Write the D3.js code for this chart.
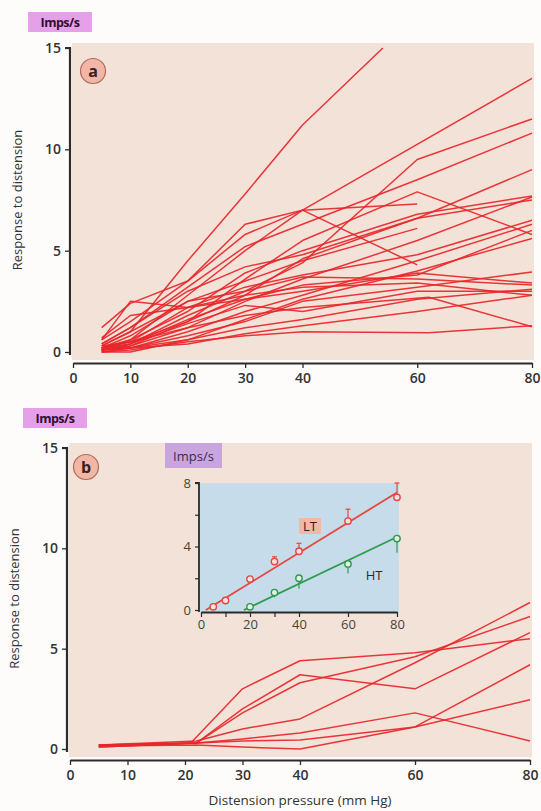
<!DOCTYPE html>
<html>
<head>
<meta charset="utf-8">
<script src="https://cdn.jsdelivr.net/npm/d3@7"></script>
<style>
  body { margin: 0; background: #fdfcfb; }
  svg { display: block; font-family: "Open Sans", "Noto Sans", sans-serif; }
</style>
</head>
<body>
<svg id="chart"></svg>
<script>
// panel a: individual fibres, normotensive
const panelALines = [
  [[5,0.3],[10,1.0],[20,4.5],[30,7.8],[40,11.2],[54,15]],
  [[5,0.2],[10,0.6],[20,2.8],[30,5.0],[40,7.0],[80,13.5]],
  [[5,0.1],[10,0.4],[20,1.8],[30,3.0],[40,4.4],[60,9.5],[80,11.5]],
  [[5,0.4],[10,1.2],[20,3.2],[30,5.2],[40,6.3],[60,8.5],[80,10.8]],
  [[5,0.2],[10,0.5],[20,1.5],[30,2.8],[40,4.6],[60,6.6],[80,9.0]],
  [[5,0.1],[10,0.3],[20,1.5],[30,3.6],[40,5.5],[60,7.9],[80,5.8]],
  [[5,1.2],[10,2.4],[20,3.5],[30,5.8],[40,7.0],[60,7.3]],
  [[5,0.2],[10,0.8],[20,2.5],[30,3.5],[40,4.5],[60,6.1]],
  [[5,0.6],[10,1.5],[20,3.5],[30,6.3],[40,7.0],[60,4.3]],
  [[5,0.1],[10,0.3],[20,1.2],[30,2.5],[40,3.6],[60,5.5],[80,7.65]],
  [[5,0.3],[10,0.5],[20,2.2],[30,3.2],[40,3.8],[60,4.8],[80,6.5]],
  [[5,0.1],[10,0.2],[20,1.0],[30,2.0],[40,2.8],[60,4.5],[80,6.3]],
  [[5,0.2],[10,0.4],[20,1.6],[30,2.6],[40,3.3],[60,3.8],[80,6.0]],
  [[5,0.0],[10,0.2],[20,0.8],[30,1.5],[40,2.5],[60,3.2],[80,3.95]],
  [[5,0.3],[10,1.0],[20,2.5],[30,3.0],[40,3.7],[60,3.6],[80,3.3]],
  [[5,0.1],[10,0.4],[20,1.4],[30,2.3],[40,2.0],[60,3.0],[80,3.0]],
  [[5,0.2],[10,0.5],[20,1.2],[30,1.8],[40,2.2],[62,2.7],[80,1.25]],
  [[5,0.0],[10,0.1],[20,0.5],[30,0.8],[40,1.0],[62,0.95],[80,1.3]],
  [[5,0.1],[10,0.2],[20,0.6],[30,1.2],[40,1.6],[60,2.6],[80,3.1]],
  [[5,0.7],[10,1.8],[20,2.2],[30,2.8],[40,3.2],[60,3.4],[80,2.8]],
  [[5,0.0],[10,0.0],[20,0.6],[30,1.6],[40,2.6],[60,4.0],[80,5.6]],
  [[5,0.6],[10,2.5],[20,2.2],[30,2.6],[40,3.0],[60,3.9],[80,3.4]],
  [[5,0.2],[10,0.2],[20,0.4],[30,0.9],[40,1.3],[60,2.0],[80,2.8]],
  [[5,0.4],[10,1.2],[20,3.0],[30,4.2],[40,4.8],[60,6.6],[80,7.5]],
  [[5,0.1],[10,0.6],[20,2.0],[30,3.9],[40,5.0],[60,6.8],[80,7.7]]
];

// panel b: individual fibres, hypertensive
const panelBLines = [
  [[5,0.2],[21,0.3],[30,3.0],[40,4.4],[60,4.8],[80,5.5]],
  [[5,0.15],[22,0.3],[30,2.0],[40,3.7],[60,3.0],[80,5.8]],
  [[5,0.1],[22,0.3],[30,1.8],[40,3.3],[60,4.6],[80,6.6]],
  [[5,0.2],[22,0.4],[30,1.0],[40,1.5],[60,4.3],[80,7.3]],
  [[5,0.2],[22,0.3],[30,0.5],[40,0.8],[60,1.8],[80,0.4]],
  [[5,0.1],[22,0.3],[30,0.4],[40,0.45],[60,1.1],[80,4.2]],
  [[5,0.15],[22,0.2],[30,0.1],[40,0.0],[60,1.1],[80,2.45]]
];

// inset: means with error bars
const insetPressure = [5, 10, 20, 30, 40, 60, 80];
const ltMean = [0.2, 0.6, 1.95, 3.05, 3.7, 5.6, 7.1];
const ltErrHi = [0.2, 0.6, 2.15, 3.35, 4.2, 6.35, 8.0];
const htPressure = [20, 30, 40, 60, 80];
const htMean = [0.2, 1.1, 2.0, 2.9, 4.5];
const htErrLo = [0.2, 0.8, 1.35, 2.3, 3.6];
const ltFit = [[2, 0], [80, 7.4]];
const htFit = [[17.5, 0], [80, 4.6]];

const mainXTicks = [0, 10, 20, 30, 40, 60, 80];
const mainYTicks = [0, 5, 10, 15];
const insetXTicks = [0, 10, 20, 30, 40, 60, 80];
const insetXLabels = [0, 20, 40, 60, 80];
const insetYTicks = [0, 2, 4, 6, 8];
const insetYLabels = [0, 4, 8];

const W = 541, H = 811;
const svg = d3.select("#chart").attr("width", W).attr("height", H);

const red = "#e8262b";
const axisCol = "#2b2b2b";

function panel(opt) {
  const x = d3.scaleLinear().domain([0, 80]).range(opt.xr);
  const y = d3.scaleLinear().domain([0, 15]).range(opt.yr);

  svg.append("rect")
    .attr("x", opt.xr[0] - 1).attr("y", opt.yr[1] - 5)
    .attr("width", opt.xr[1] + 3 - opt.xr[0]).attr("height", opt.yr[0] - opt.yr[1] + 13)
    .attr("fill", "#f3e2d7");

  // unit label
  svg.append("rect")
    .attr("x", opt.unit[0]).attr("y", opt.unit[1])
    .attr("width", 64).attr("height", 20)
    .attr("fill", "#e6a0ea");
  svg.append("text")
    .attr("x", opt.unit[0] + 32).attr("y", opt.unit[1] + 15)
    .attr("text-anchor", "middle")
    .attr("font-size", 12.5).attr("font-weight", 700)
    .attr("letter-spacing", "-0.5")
    .attr("fill", "#2c1030")
    .text("Imps/s");

  const yAxis = d3.axisLeft(y).tickValues(mainYTicks).tickSize(5).tickSizeOuter(0).tickPadding(4);
  const gy = svg.append("g")
    .attr("transform", `translate(${opt.xr[0] - 3},0)`)
    .call(yAxis);
  const xAxis = d3.axisBottom(x).tickValues(mainXTicks).tickSize(5).tickSizeOuter(0).tickPadding(5);
  const gx = svg.append("g")
    .attr("transform", `translate(0,${opt.yr[0] + 11})`)
    .call(xAxis);
  [gx, gy].forEach(g => {
    g.select(".domain").attr("stroke", axisCol).attr("stroke-width", 2.2);
    g.selectAll(".tick line").attr("stroke", axisCol).attr("stroke-width", 1.3);
    g.selectAll(".tick text")
      .attr("font-size", 14).attr("font-weight", 600)
      .attr("font-family", "'Open Sans', sans-serif")
      .attr("fill", "#333");
  });
  gy.select(".domain").attr("d", `M-5,${y(15)}H0V${y(0) + 3}`);

  svg.append("text")
    .attr("transform", `translate(${opt.labelX},${(y(0) + y(15)) / 2}) rotate(-90)`)
    .attr("text-anchor", "middle")
    .attr("font-size", 13).attr("font-weight", 500)
    .attr("fill", "#333")
    .text("Response to distension");

  // panel letter
  svg.append("circle")
    .attr("cx", opt.letter[0]).attr("cy", opt.letter[1]).attr("r", 12.5)
    .attr("fill", "#f1b6a6").attr("stroke", "#b06a5c").attr("stroke-width", 1.2);
  svg.append("text")
    .attr("x", opt.letter[0]).attr("y", opt.letter[1] + 5.5)
    .attr("text-anchor", "middle")
    .attr("font-size", 16).attr("font-weight", 700)
    .attr("fill", "#3a2020")
    .text(opt.name);

  const line = d3.line().x(d => x(d[0])).y(d => y(d[1]));
  svg.append("g")
    .selectAll("path")
    .data(opt.lines)
    .join("path")
    .attr("d", line)
    .attr("fill", "none")
    .attr("stroke", red)
    .attr("stroke-width", 1.5)
    .attr("stroke-linejoin", "round")
    .attr("opacity", 0.92);
}

panel({ name: "a", xr: [73, 532], yr: [352, 48], unit: [28, 12], letter: [93, 71], labelX: 22, lines: panelALines });
panel({ name: "b", xr: [70, 530], yr: [749, 448], unit: [23, 408], letter: [86, 467], labelX: 19, lines: panelBLines });

svg.append("text")
  .attr("x", 300).attr("y", 805)
  .attr("text-anchor", "middle")
  .attr("font-size", 13.5).attr("font-weight", 500)
  .attr("fill", "#333")
  .text("Distension pressure (mm Hg)");

// inset
const xi = d3.scaleLinear().domain([0, 80]).range([201, 397]);
const yi = d3.scaleLinear().domain([0, 8]).range([610, 483]);

svg.append("rect")
  .attr("x", 200).attr("y", yi(8)).attr("width", 199).attr("height", yi(0) - yi(8) + 2)
  .attr("fill", "#c6dcea");
svg.append("rect")
  .attr("x", 165).attr("y", 443).attr("width", 57).attr("height", 25)
  .attr("fill", "#c8a6dd");
svg.append("text")
  .attr("x", 193.5).attr("y", 461)
  .attr("text-anchor", "middle")
  .attr("font-size", 13).attr("fill", "#3a2a55")
  .text("Imps/s");

const giy = svg.append("g").attr("transform", "translate(199,0)")
  .call(d3.axisLeft(yi).tickValues(insetYTicks).tickSize(4).tickSizeOuter(0).tickPadding(4)
    .tickFormat(d => insetYLabels.includes(d) ? d : ""));
const gix = svg.append("g").attr("transform", `translate(0,${yi(0) + 2})`)
  .call(d3.axisBottom(xi).tickValues(insetXTicks).tickSize(5).tickSizeOuter(0).tickPadding(3)
    .tickFormat(d => insetXLabels.includes(d) ? d : ""));
[giy, gix].forEach(g => {
  g.select(".domain").attr("stroke", axisCol).attr("stroke-width", 1.8);
  g.selectAll(".tick line").attr("stroke", axisCol).attr("stroke-width", 1.2);
  g.selectAll(".tick text").attr("font-size", 13).attr("fill", "#444")
    .attr("font-family", "'Open Sans', sans-serif");
});
giy.select(".domain").attr("d", `M-4,${yi(8)}H0V${yi(0) + 2}`);

const ltCol = "#e5473f", htCol = "#2f9a4f";
const fitLine = d3.line().x(d => xi(d[0])).y(d => yi(d[1]));
svg.append("path").attr("d", fitLine(ltFit)).attr("stroke", ltCol).attr("stroke-width", 1.8).attr("fill", "none");
svg.append("path").attr("d", fitLine(htFit)).attr("stroke", htCol).attr("stroke-width", 1.8).attr("fill", "none");

function errBars(px, lo, hi, col) {
  const g = svg.append("g").attr("stroke", col).attr("stroke-width", 1.2);
  px.forEach((p, i) => {
    if (Math.abs(hi[i] - lo[i]) < 0.25) return;
    g.append("line").attr("x1", xi(p)).attr("x2", xi(p)).attr("y1", yi(lo[i])).attr("y2", yi(hi[i]));
    const end = hi[i] > lo[i] ? hi[i] : lo[i];
    g.append("line").attr("x1", xi(p) - 2.5).attr("x2", xi(p) + 2.5).attr("y1", yi(end)).attr("y2", yi(end));
  });
}
errBars(insetPressure, ltMean, ltErrHi, ltCol);
errBars(htPressure, htMean, htErrLo, htCol);

svg.append("g").selectAll("circle").data(insetPressure).join("circle")
  .attr("cx", d => xi(d)).attr("cy", (d, i) => yi(ltMean[i])).attr("r", 3.2)
  .attr("fill", "#f3e3e0").attr("stroke", ltCol).attr("stroke-width", 1.4);
svg.append("g").selectAll("circle").data(htPressure).join("circle")
  .attr("cx", d => xi(d)).attr("cy", (d, i) => yi(htMean[i])).attr("r", 3.2)
  .attr("fill", "#e3f0e3").attr("stroke", htCol).attr("stroke-width", 1.4);

svg.append("rect").attr("x", 299).attr("y", 518).attr("width", 22).attr("height", 16).attr("fill", "#f2b8a6");
svg.append("text").attr("x", 310).attr("y", 531).attr("text-anchor", "middle")
  .attr("font-size", 13).attr("fill", "#3a1a1a").text("LT");
svg.append("text").attr("x", 374).attr("y", 580).attr("text-anchor", "middle")
  .attr("font-size", 13).attr("fill", "#1f2f2a").text("HT");
</script>
</body>
</html>
